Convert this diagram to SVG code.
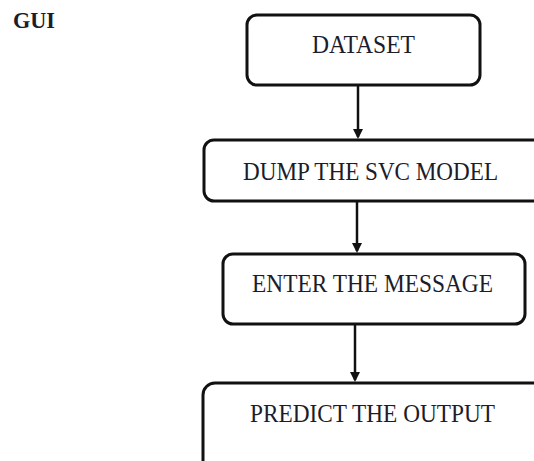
<svg xmlns="http://www.w3.org/2000/svg" width="534" height="461" viewBox="0 0 534 461">
<style>
.box{fill:#fff;stroke:#111;stroke-width:3}
.lbl{font-family:"Liberation Serif","Times New Roman",serif;font-size:26px;fill:#1c1c2a;text-anchor:middle}
.conn{stroke:#111;stroke-width:2.5;fill:none}
</style>
<defs>
<marker id="ah" markerWidth="4" markerHeight="4" refX="3.2" refY="2" orient="auto" markerUnits="strokeWidth">
<path d="M0,0 L4,2 L0,4 Z" fill="#111"/>
</marker>
</defs>
<rect width="534" height="461" fill="#fff"/>
<text x="13" y="28" font-family="Liberation Serif, serif" font-weight="bold" font-size="23" fill="#1c1c2a" textLength="42" lengthAdjust="spacingAndGlyphs">GUI</text>
<g id="connectors">
<line class="conn" x1="358" y1="86" x2="358" y2="137" marker-end="url(#ah)"/>
<line class="conn" x1="357" y1="201" x2="357" y2="251" marker-end="url(#ah)"/>
<line class="conn" x1="355" y1="324" x2="355" y2="380" marker-end="url(#ah)"/>
</g>
<g id="dataset">
<rect class="box" x="247" y="15" width="233" height="70" rx="10"/>
<text class="lbl" x="363.5" y="53" textLength="103" lengthAdjust="spacingAndGlyphs">DATASET</text>
</g>
<g id="dump">
<rect class="box" x="204" y="140" width="345" height="61" rx="10"/>
<text class="lbl" x="370.5" y="180" textLength="255" lengthAdjust="spacingAndGlyphs">DUMP THE SVC MODEL</text>
</g>
<g id="enter">
<rect class="box" x="223" y="254" width="302" height="70" rx="10"/>
<text class="lbl" x="372.5" y="292" textLength="241" lengthAdjust="spacingAndGlyphs">ENTER THE MESSAGE</text>
</g>
<g id="predict">
<rect class="box" x="203" y="383" width="346" height="100" rx="12"/>
<text class="lbl" x="372.5" y="422" textLength="245" lengthAdjust="spacingAndGlyphs">PREDICT THE OUTPUT</text>
</g>
</svg>
